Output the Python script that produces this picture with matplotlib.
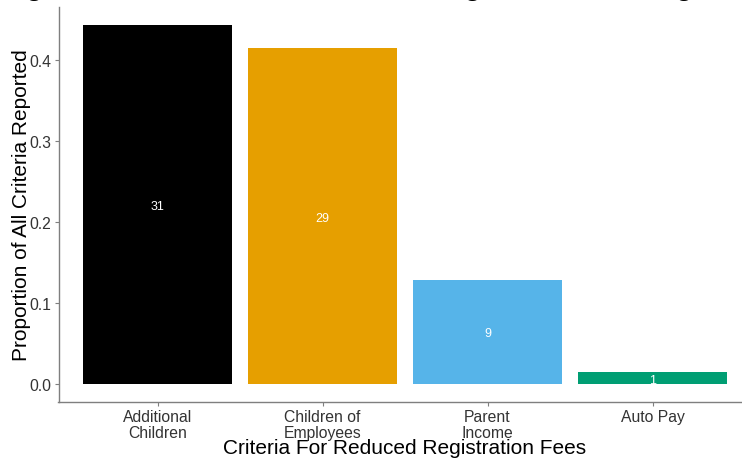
import matplotlib
matplotlib.use("Agg")
import matplotlib.pyplot as plt

categories = ["Additional\nChildren", "Children of\nEmployees", "Parent\nIncome", "Auto Pay"]
counts = [31, 29, 9, 1]
colors = ["#000000", "#E69F00", "#56B4E9", "#009E73"]
yticks = [0.0, 0.1, 0.2, 0.3, 0.4]

total = sum(counts)
props = [c / total for c in counts]

plt.rcParams["font.family"] = ["Liberation Sans", "DejaVu Sans"]

fig = plt.figure(figsize=(7.42, 4.6), dpi=100)
ax = fig.add_axes([58.5 / 742, 57 / 460, 693 / 742, 395 / 460])

x = list(range(len(categories)))
ax.bar(x, props, width=0.9, color=colors)
for xi, p, c in zip(x, props, counts):
    ax.text(xi, p / 2, str(c), color="white", ha="center", va="center_baseline", fontsize=9)

ax.set_xlim(-0.6, len(categories) - 0.4)
ymax = max(props)
ax.set_ylim(-0.05 * ymax, ymax * 1.05)
ax.set_xticks(x)
ax.set_xticklabels(categories, fontsize=11.3, linespacing=1.05)
ax.set_yticks(yticks)
ax.set_yticklabels([f"{t:.1f}" for t in yticks], fontsize=11.3)

for side in ["top", "right"]:
    ax.spines[side].set_visible(False)
for side in ["left", "bottom"]:
    ax.spines[side].set_color("#7f7f7f")
    ax.spines[side].set_linewidth(1.0)
ax.tick_params(colors="#7f7f7f", length=3, width=0.8, labelcolor="#333333", pad=2)

ax.set_ylabel("Proportion of All Criteria Reported", fontsize=15, color="black")
ax.yaxis.set_label_coords(-0.04, 0.5)
ax.set_xlabel("Criteria For Reduced Registration Fees", fontsize=15, color="black")
ax.xaxis.set_label_coords(0.5, -0.092)

# title is cropped at the top edge of the image; only descenders remain
fig.text(-0.084, 1.0 + 5 / 460, "Meeting Criteria for Reduced Fees at Registration Among Clubs",
         fontsize=20, fontweight="bold", ha="left", va="baseline")

fig.savefig("out.png", dpi=100)
